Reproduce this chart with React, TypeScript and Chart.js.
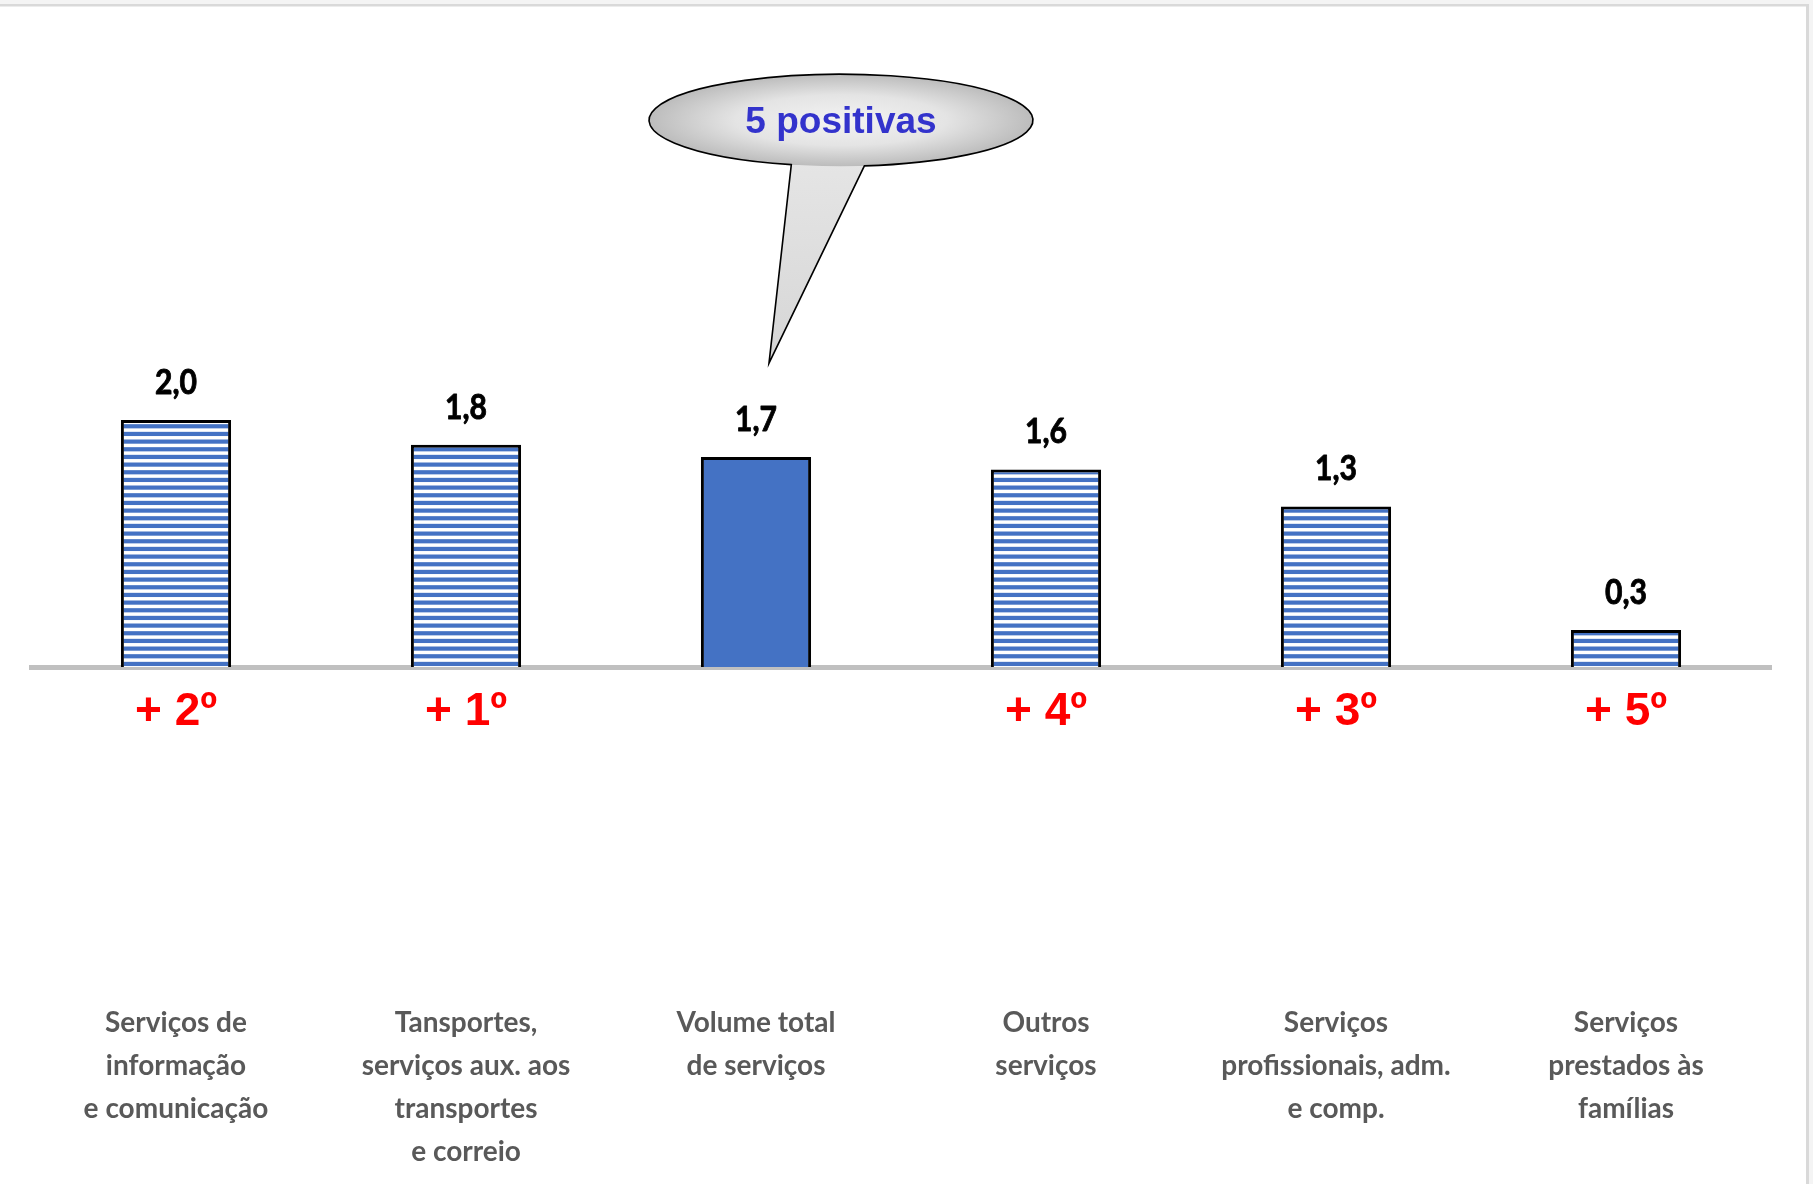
import React, { useEffect, useRef } from "react";
import { Chart, registerables } from "chart.js";

Chart.register(...registerables);

const categories: string[][] = [
  ["Serviços de", "informação", "e comunicação"],
  ["Tansportes,", "serviços aux. aos", "transportes", "e correio"],
  ["Volume total", "de serviços"],
  ["Outros", "serviços"],
  ["Serviços", "profissionais, adm.", "e comp."],
  ["Serviços", "prestados às", "famílias"],
];
const values: number[] = [2.0, 1.8, 1.7, 1.6, 1.3, 0.3];
const ranks: string[] = ["+ 2º", "+ 1º", "", "+ 4º", "+ 3º", "+ 5º"];
const isTotal: boolean[] = [false, false, true, false, false, false];
const calloutText = "5 positivas";
const calloutBarIndex = 2;
const calloutTipValue = 2.46;

const W = 1813;
const H = 1184;
const BLUE = "#4472C4";
const LATO = "Lato, 'Open Sans', sans-serif";
const ARIAL = "'Liberation Sans', Arial, sans-serif";

function makeStripePattern(ctx: CanvasRenderingContext2D): CanvasPattern | string {
  const c = document.createElement("canvas");
  c.width = 20;
  c.height = 23;
  const g = c.getContext("2d");
  if (!g) return BLUE;
  g.fillStyle = "#ffffff";
  g.fillRect(0, 0, 20, 23);
  g.fillStyle = BLUE;
  for (let i = 0; i < 3; i++) {
    g.fillRect(0, i * (23 / 3) + 2.5, 20, 4.2);
  }
  return ctx.createPattern(c, "repeat") || BLUE;
}

const framePlugin = {
  id: "frame",
  beforeDraw(chart: any) {
    const ctx = chart.ctx as CanvasRenderingContext2D;
    ctx.save();
    ctx.fillStyle = "#f4f4f4";
    ctx.fillRect(0, 0, W, H);
    ctx.fillStyle = "#ffffff";
    ctx.fillRect(0, 6, 1806, H - 6);
    ctx.fillStyle = "#d9d9d9";
    ctx.fillRect(0, 4, 1809, 2.5);
    ctx.fillRect(1806, 4, 3, H - 4);
    ctx.restore();
  },
};

const labelsPlugin = {
  id: "labelsPlugin",
  afterDraw(chart: any) {
    const ctx = chart.ctx as CanvasRenderingContext2D;
    const meta = chart.getDatasetMeta(0);
    const yScale = chart.scales.y;
    const xScale = chart.scales.x;
    const zero = yScale.getPixelForValue(0);
    ctx.save();
    meta.data.forEach((bar: any, i: number) => {
      // value label (slightly condensed, like the original)
      const txt = values[i].toFixed(1).replace(".", ",");
      ctx.save();
      ctx.translate(bar.x, bar.y - 26);
      ctx.scale(0.86, 1);
      ctx.font = `bold 35px ${LATO}`;
      ctx.fillStyle = "#000000";
      ctx.strokeStyle = "#000000";
      ctx.lineWidth = 0.9;
      ctx.lineJoin = "round";
      ctx.textAlign = "center";
      ctx.textBaseline = "alphabetic";
      ctx.fillText(txt, 0, 0);
      ctx.strokeText(txt, 0, 0);
      ctx.restore();
      // rank label
      if (ranks[i]) {
        ctx.font = `bold 46px ${ARIAL}`;
        ctx.fillStyle = "#ff0000";
        ctx.textAlign = "center";
        ctx.textBaseline = "alphabetic";
        ctx.fillText(ranks[i], bar.x, zero + 58);
      }
    });

    // callout bubble
    const tipX = xScale.getPixelForValue(calloutBarIndex) + 13;
    const tipY = yScale.getPixelForValue(calloutTipValue);
    const cx = tipX + 72;
    const cy = tipY - 243;
    const rx = 192;
    const ry = 46;
    const a1 = (105 * Math.PI) / 180;
    const a2 = (83 * Math.PI) / 180;
    const path = new Path2D();
    path.moveTo(tipX, tipY);
    path.lineTo(cx + rx * Math.cos(a1), cy + ry * Math.sin(a1));
    path.ellipse(cx, cy, rx, ry, 0, a1, a2 + Math.PI * 2, false);
    path.closePath();
    const ell = new Path2D();
    ell.ellipse(cx, cy, rx, ry, 0, 0, Math.PI * 2);

    const lin = ctx.createLinearGradient(0, cy, 0, tipY);
    lin.addColorStop(0, "#e8e8e8");
    lin.addColorStop(1, "#d6d6d6");
    ctx.fillStyle = lin;
    ctx.fill(path);

    ctx.save();
    ctx.clip(ell);
    ctx.translate(cx, cy);
    ctx.scale(1, ry / rx);
    const grad = ctx.createRadialGradient(0, 0, 0, 0, 0, rx);
    grad.addColorStop(0, "#f3f3f3");
    grad.addColorStop(0.55, "#e4e4e4");
    grad.addColorStop(1, "#bcbcbc");
    ctx.fillStyle = grad;
    ctx.fillRect(-rx - 10, -rx - 10, rx * 2 + 20, rx * 2 + 20);
    ctx.restore();

    ctx.lineWidth = 1.6;
    ctx.strokeStyle = "#000000";
    ctx.stroke(path);

    ctx.font = `bold 37px ${ARIAL}`;
    ctx.fillStyle = "#3333cc";
    ctx.textAlign = "center";
    ctx.textBaseline = "alphabetic";
    ctx.fillText(calloutText, cx, cy + 13);
    ctx.restore();
  },
};

export default function App() {
  const ref = useRef<HTMLCanvasElement | null>(null);

  useEffect(() => {
    const canvas = ref.current;
    if (!canvas) return;
    const ctx = canvas.getContext("2d");
    if (!ctx) return;
    const pattern = makeStripePattern(ctx);
    const chart = new Chart(ctx, {
      type: "bar",
      data: {
        labels: categories,
        datasets: [
          {
            data: values,
            backgroundColor: values.map((_, i) => (isTotal[i] ? BLUE : pattern)) as any,
            borderColor: "#000000",
            borderWidth: 3,
            barPercentage: 0.76,
            categoryPercentage: 0.5,
          },
        ],
      },
      options: {
        animation: false,
        responsive: false,
        devicePixelRatio: 1,
        layout: { padding: { top: 49.5, left: 31, right: 42, bottom: 0 } },
        plugins: {
          legend: { display: false },
          tooltip: { enabled: false },
        },
        scales: {
          x: {
            z: 1,
            grid: { display: false, drawTicks: true, tickLength: 334 },
            border: { display: true, color: "#c0c0c0", width: 5 },
            ticks: {
              autoSkip: false,
              maxRotation: 0,
              minRotation: 0,
              padding: 0,
              color: "#595959",
              font: { family: LATO, size: 28, weight: "bold", lineHeight: 43 / 28 },
            },
            afterFit: (scale: any) => {
              scale.height = 517;
            },
          },
          y: {
            display: false,
            min: 0,
            max: 5,
          },
        },
      },
      plugins: [framePlugin, labelsPlugin],
    });
    return () => chart.destroy();
  }, []);

  return (
    <div style={{ position: "absolute", left: 0, top: 0, width: W, height: H }}>
      <canvas ref={ref} width={W} height={H} style={{ width: W, height: H, display: "block" }} />
    </div>
  );
}
